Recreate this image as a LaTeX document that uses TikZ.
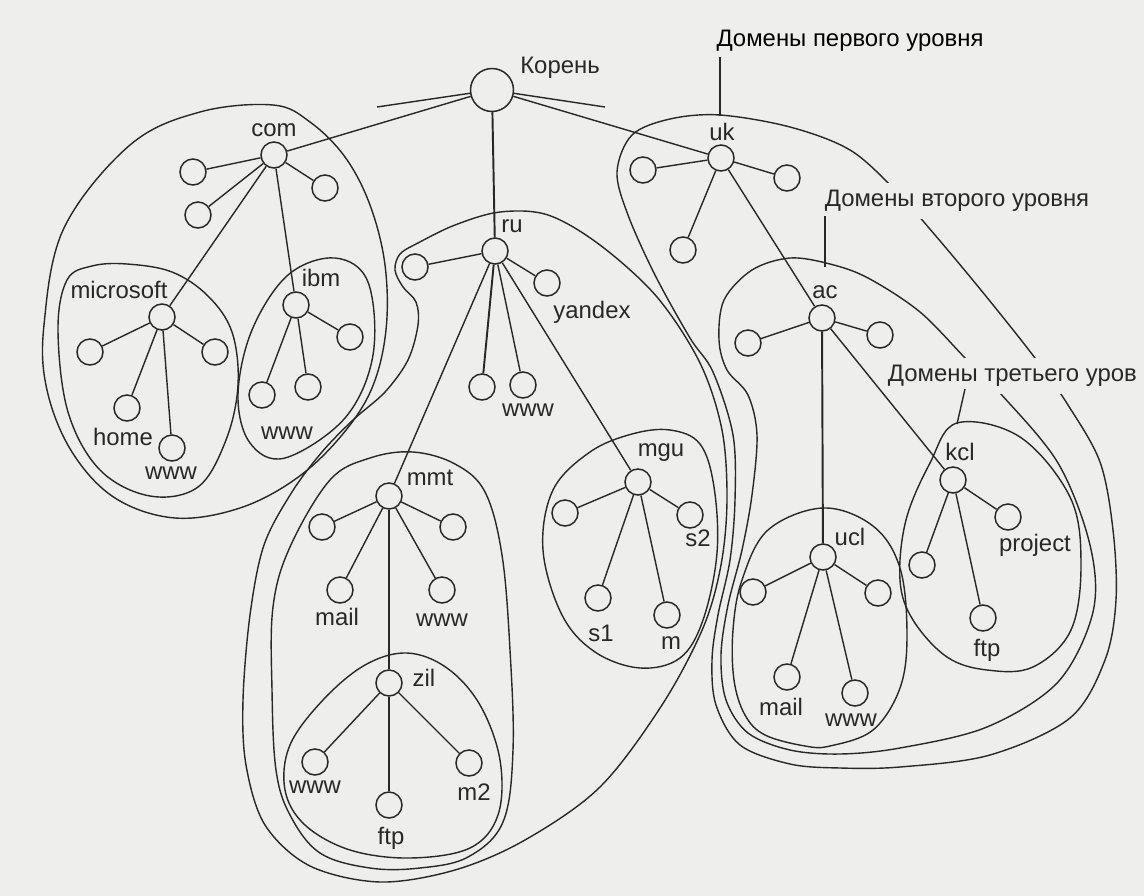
\documentclass[tikz,border=0pt]{standalone}
\usepackage{fontspec}
\setmainfont{Liberation Sans}
\definecolor{paper}{RGB}{238,238,236}
\definecolor{ink}{RGB}{40,40,40}
\begin{document}
\begin{tikzpicture}[x=0.02cm,y=-0.02cm,
  dom/.style={circle,draw=ink,line width=0.85pt,minimum size=0.52cm,inner sep=0pt,fill=paper},
  rootnode/.style={dom,minimum size=0.86cm},
  lbl/.style={text=ink,inner sep=0pt,font=\fontsize{13.6}{16}\selectfont},
  lvl/.style={text=ink,fill=paper,inner xsep=2pt,inner ysep=4pt,font=\fontsize{13.6}{16}\selectfont},
  link/.style={draw=ink,line width=0.8pt},
  trunk/.style={draw=ink,line width=1.1pt},
  zone/.style={draw=ink,line width=0.8pt}]
\fill[paper] (0,0) rectangle (1144,896);
\useasboundingbox (0,0) rectangle (1144,896);
\clip (0,0) rectangle (1144,896);

% ---------- zones ----------
\draw[zone] plot[smooth cycle,tension=0.6] coordinates {(273,105) (310,122) (345,157) (370,205) (385,265) (386,330) (372,388) (342,435) (297,478) (240,508) (175,518) (115,498) (72,452) (47,390) (44,325) (64,228) (130,145) (200,112)};
\draw[zone] plot[smooth cycle,tension=0.6] coordinates {(127,264) (172,272) (208,296) (232,332) (238,385) (226,440) (198,487) (150,496) (100,470) (68,412) (58,330) (67,280) (92,266)};
\draw[zone] plot[smooth cycle,tension=0.6] coordinates {(335,258) (368,282) (373,355) (345,418) (285,458) (250,443) (238,395) (252,330) (288,275)};
\draw[zone] plot[smooth cycle,tension=0.55] coordinates {(500,212) (548,215) (600,245) (657,297) (700,363) (722,430) (727,500) (721,565) (703,628) (662,705) (600,787) (525,840) (455,870) (380,882) (310,866) (265,825) (246,765) (243,700) (250,615) (264,545) (292,492) (322,452) (353,420) (385,392) (408,360) (418,325) (416,302) (403,287) (395,270) (400,254) (418,243) (455,225)};
\draw[zone] plot[smooth cycle,tension=0.6] coordinates {(413,452) (455,464) (485,492) (502,555) (510,650) (513,750) (503,822) (468,857) (420,868) (370,868) (320,853) (290,815) (276,770) (272,690) (273,607) (290,547) (330,480) (370,458)};
\draw[zone] plot[smooth cycle,tension=0.6] coordinates {(407,653) (447,668) (480,705) (500,760) (498,815) (470,848) (410,858) (350,850) (305,825) (285,790) (290,745) (323,700) (365,665)};
\draw[zone] plot[smooth cycle,tension=0.6] coordinates {(670,430) (700,444) (714,487) (717,553) (703,620) (680,658) (640,668) (595,652) (562,615) (543,550) (553,490) (590,452) (632,434)};
\draw[zone] plot[smooth cycle,tension=0.55] coordinates {(720,115) (790,127) (850,150) (895,190) (935,235) (985,295) (1035,358) (1068,405) (1100,462) (1113,530) (1116,600) (1105,660) (1070,718) (990,755) (900,767) (840,768) (790,764) (740,745) (716,705) (712,660) (718,615) (730,560) (735,500) (733,435) (713,372) (690,338) (655,275) (628,215) (617,172) (632,135) (670,119)};
\draw[zone] plot[smooth cycle,tension=0.55] coordinates {(790,258) (830,264) (868,278) (920,312) (967,360) (1000,393) (1058,463) (1090,545) (1093,612) (1058,682) (987,727) (900,748) (840,754) (790,750) (748,733) (726,700) (721,655) (728,605) (742,550) (752,495) (757,435) (748,395) (727,370) (719,340) (724,300) (752,270)};
\draw[zone] plot[smooth cycle,tension=0.6] coordinates {(823,508) (873,526) (900,568) (907,635) (900,688) (873,730) (830,746) (805,746) (765,735) (745,715) (734,680) (733,630) (742,580) (768,530)};
\draw[zone] plot[smooth cycle,tension=0.6] coordinates {(957,423) (1020,437) (1070,497) (1081,563) (1071,630) (1033,667) (987,670) (947,657) (913,620) (900,580) (906,520) (930,463)};

% ---------- nodes ----------
\node[rootnode] (root) at (492,90) {};
\coordinate (stubL) at (377,107);
\coordinate (stubR) at (605,107);

\node[dom] (com) at (274,155) {};
\node[dom] (c1) at (193,172) {};
\node[dom] (c2) at (198,215) {};
\node[dom] (c3) at (325,188) {};
\node[dom] (ms) at (162,317) {};
\node[dom] (m1) at (90,352) {};
\node[dom] (m2) at (215,352) {};
\node[dom] (home) at (127,408) {};
\node[dom] (mswww) at (172,448) {};
\node[dom] (ibm) at (296,305) {};
\node[dom] (i1) at (350,337) {};
\node[dom] (i2) at (262,395) {};
\node[dom] (i3) at (308,387) {};

\node[dom] (ru) at (495,251) {};
\node[dom] (r1) at (415,267) {};
\node[dom] (yan) at (547,283) {};
\node[dom] (rw1) at (482,387) {};
\node[dom] (rw2) at (523,385) {};
\node[dom] (mmt) at (389,496) {};
\node[dom] (mm1) at (322,527) {};
\node[dom] (mm2) at (453,527) {};
\node[dom] (mmail) at (340,590) {};
\node[dom] (mwww) at (442,590) {};
\node[dom] (zil) at (389,683) {};
\node[dom] (zwww) at (315,762) {};
\node[dom] (zm2) at (469,763) {};
\node[dom] (zftp) at (389,805) {};
\node[dom] (mgu) at (638,482) {};
\node[dom] (g1) at (565,513) {};
\node[dom] (gs2) at (690,515) {};
\node[dom] (gs1) at (598,598) {};
\node[dom] (gm) at (667,615) {};

\node[dom] (uk) at (721,158) {};
\node[dom] (u1) at (643,170) {};
\node[dom] (u2) at (787,178) {};
\node[dom] (u3) at (683,250) {};
\node[dom] (ac) at (822,318) {};
\node[dom] (a1) at (748,343) {};
\node[dom] (a2) at (880,335) {};
\node[dom] (ucl) at (823,557) {};
\node[dom] (l1) at (753,592) {};
\node[dom] (l2) at (878,593) {};
\node[dom] (lmail) at (787,677) {};
\node[dom] (lwww) at (855,693) {};
\node[dom] (kcl) at (953,480) {};
\node[dom] (proj) at (1008,517) {};
\node[dom] (k1) at (922,565) {};
\node[dom] (kftp) at (983,618) {};

% ---------- links ----------
\draw[link] (root) -- (com);
\draw[trunk] (root) -- (ru);
\draw[link] (root) -- (uk);
\draw[link] (root) -- (stubL);
\draw[link] (root) -- (stubR);
\foreach \c in {c1,c2,c3,ms,ibm} \draw[link] (com) -- (\c);
\foreach \c in {m1,m2,home,mswww} \draw[link] (ms) -- (\c);
\foreach \c in {i1,i2,i3} \draw[link] (ibm) -- (\c);
\foreach \c in {r1,yan,rw2,mmt,mgu} \draw[link] (ru) -- (\c);
\draw[trunk] (ru) -- (rw1);
\foreach \c in {mm1,mm2,mmail,mwww} \draw[link] (mmt) -- (\c);
\draw[trunk] (mmt) -- (zil);
\foreach \c in {zwww,zm2} \draw[link] (zil) -- (\c);
\draw[trunk] (zil) -- (zftp);
\foreach \c in {g1,gs2,gs1,gm} \draw[link] (mgu) -- (\c);
\foreach \c in {u1,u2,u3,ac} \draw[link] (uk) -- (\c);
\foreach \c in {a1,a2,kcl} \draw[link] (ac) -- (\c);
\draw[trunk] (ac) -- (ucl);
\foreach \c in {l1,l2,lmail,lwww} \draw[link] (ucl) -- (\c);
\foreach \c in {proj,k1,kftp} \draw[link] (kcl) -- (\c);

% ---------- labels ----------
\node[lbl] (tRoot) at (560,68) {Корень};
\node[lbl] (tCom) at (274,130) {com};
\node[lbl] (tMs) at (119,290) {microsoft};
\node[lbl] (tIbm) at (321,278) {ibm};
\node[lbl] (tHome) at (123,437) {home};
\node[lbl] (tMsW) at (171,473) {www};
\node[lbl] (tIbmW) at (287,433) {www};
\node[lbl] (tRu) at (512,226) {ru};
\node[lbl] (tYan) at (592,312) {yandex};
\node[lbl] (tRuW) at (528,410) {www};
\node[lbl] (tMmt) at (430,478) {mmt};
\node[lbl] (tMmail) at (337,617) {mail};
\node[lbl] (tMwww) at (442,620) {www};
\node[lbl] (tZil) at (424,678) {zil};
\node[lbl] (tZwww) at (315,787) {www};
\node[lbl] (tZm2) at (474,792) {m2};
\node[lbl] (tZftp) at (391,838) {ftp};
\node[lbl] (tMgu) at (661,453) {mgu};
\node[lbl] (tS2) at (698,538) {s2};
\node[lbl] (tS1) at (601,633) {s1};
\node[lbl] (tM) at (671,643) {m};
\node[lbl] (tUk) at (722,132) {uk};
\node[lbl] (tAc) at (825,292) {ac};
\node[lbl] (tUcl) at (850,537) {ucl};
\node[lbl] (tLmail) at (781,707) {mail};
\node[lbl] (tLwww) at (851,720) {www};
\node[lbl] (tKcl) at (960,452) {kcl};
\node[lbl] (tProj) at (1035,545) {project};
\node[lbl] (tKftp) at (987,650) {ftp};

\node[lvl,text=black] (lv1) at (850,41) {Домены первого уровня};
\node[lvl] (lv2) at (957,201) {Домены второго уровня};
\node[lvl,anchor=west] (lv3) at (884,376) {Домены третьего уров};

\coordinate (p1a) at (720,57);
\coordinate (p1b) at (720,116);
\coordinate (p2a) at (825,216);
\coordinate (p2b) at (825,267);
\coordinate (p3a) at (965,389);
\coordinate (p3b) at (957,424);
\draw[link] (p1a) -- (p1b);
\draw[link] (p2a) -- (p2b);
\draw[link] (p3a) -- (p3b);
\end{tikzpicture}
\end{document}
